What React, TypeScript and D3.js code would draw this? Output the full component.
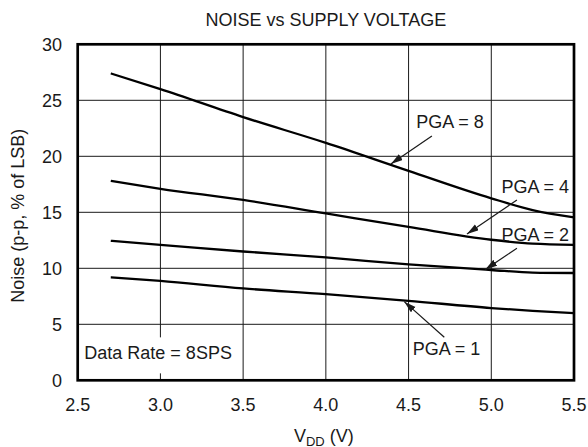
import React from 'react';
import * as d3 from "d3";

// supply voltage (V) and noise for each PGA setting (p-p, % of LSB)
const voltages = [2.7, 3.0, 3.5, 4.0, 4.5, 5.0, 5.25, 5.5];
const pga8 = [27.4, 26.0, 23.5, 21.2, 18.7, 16.25, 15.2, 14.55];
const pga4 = [17.8, 17.1, 16.1, 14.9, 13.7, 12.55, 12.2, 12.1];
const pga2 = [12.45, 12.1, 11.5, 10.97, 10.35, 9.85, 9.62, 9.58];
const pga1 = [9.2, 8.87, 8.2, 7.7, 7.1, 6.45, 6.2, 6.0];

const xTicks = [2.5, 3.0, 3.5, 4.0, 4.5, 5.0, 5.5];
const yTicks = [0, 5, 10, 15, 20, 25, 30];

// labels: text position and arrow from -> to, in data units
const labelText = ["PGA = 8", "PGA = 4", "PGA = 2", "PGA = 1"];
const labelX = [4.75, 5.266, 5.266, 4.73];
const labelY = [22.5, 16.73, 12.46, 2.26];
const arrowFromX = [4.641, 5.155, 5.155, 4.716];
const arrowFromY = [21.82, 16.1, 11.79, 3.84];
const arrowToX = [4.393, 4.853, 4.964, 4.474];
const arrowToY = [19.32, 13.06, 9.9, 7.02];

const width = 588;
const height = 447;
const margin = {top: 44.3, right: 14, bottom: 66.7, left: 77.7};
const font = "'Liberation Sans', Arial, Helvetica, sans-serif";
const ink = "#1a1a1a";

const App = () => {
    const xScale = d3.scaleLinear()
        .domain([2.5, 5.5])
        .range([margin.left, width - margin.right]);
    const yScale = d3.scaleLinear()
        .domain([0, 30])
        .range([height - margin.bottom, margin.top]);

    const line = d3.line<number>()
        .x((d, i) => xScale(voltages[i]))
        .y(d => yScale(d))
        .curve(d3.curveMonotoneX);

    const series = [pga8, pga4, pga2, pga1];
    const x0 = xScale.range()[0], x1 = xScale.range()[1];
    const y0 = yScale.range()[0], y1 = yScale.range()[1];

    // white box behind the data rate note (cuts the 3.0 grid line)
    const noteX = xScale(2.54);
    const noteY = yScale(1.87);

    return (
        <div style={{position: "absolute", left: 0, top: 0}}>
            <svg width={width} height={height} style={{display: "block", background: "white"}}
                 fontFamily={font}>
                <defs>
                    <marker id="arrow" markerUnits="userSpaceOnUse" markerWidth={13} markerHeight={8}
                            refX={12} refY={3.5} orient="auto">
                        <path d="M0,0 L12,3.5 L0,7 Z" fill={ink}/>
                    </marker>
                </defs>

                <text x={(x0 + x1) / 2} y={26} textAnchor="middle" fontSize={18} fill={ink}>
                    NOISE vs SUPPLY VOLTAGE
                </text>

                {/* grid */}
                {xTicks.slice(1, -1).map(t =>
                    <line key={"gx" + t} x1={xScale(t)} x2={xScale(t)} y1={y0} y2={y1}
                          stroke={ink} strokeWidth={1}/>
                )}
                {yTicks.slice(1, -1).map(t =>
                    <line key={"gy" + t} x1={x0} x2={x1} y1={yScale(t)} y2={yScale(t)}
                          stroke={ink} strokeWidth={1}/>
                )}

                <rect x={noteX - 3} y={noteY - 22} width={156} height={36} fill="white"/>
                <text x={noteX} y={noteY} fontSize={18} fill={ink}>Data Rate = 8SPS</text>

                {/* curves */}
                {series.map((s, i) =>
                    <path key={"s" + i} d={line(s) || ""} fill="none" stroke="black"
                          strokeWidth={2.3} strokeLinejoin="round"/>
                )}

                {/* annotations */}
                {labelText.map((t, i) =>
                    <g key={"a" + i}>
                        <text x={xScale(labelX[i])} y={yScale(labelY[i])} textAnchor="middle"
                              fontSize={18} fill={ink}>{t}</text>
                        <line x1={xScale(arrowFromX[i])} y1={yScale(arrowFromY[i])}
                              x2={xScale(arrowToX[i])} y2={yScale(arrowToY[i])}
                              stroke={ink} strokeWidth={1.2} markerEnd="url(#arrow)"/>
                    </g>
                )}

                {/* frame */}
                <rect x={x0} y={y1} width={x1 - x0} height={y0 - y1} fill="none"
                      stroke="black" strokeWidth={2.7}/>

                {/* tick labels */}
                {xTicks.map(t =>
                    <text key={"tx" + t} x={xScale(t)} y={y0 + 30.5} textAnchor="middle"
                          fontSize={18} fill={ink}>{t.toFixed(1)}</text>
                )}
                {yTicks.map(t =>
                    <text key={"ty" + t} x={62} y={yScale(t)} dy="0.35em" textAnchor="end"
                          fontSize={18} fill={ink}>{t}</text>
                )}

                <text x={(x0 + x1) / 2 - 2} y={441.5} textAnchor="middle" fontSize={18} fill={ink}>
                    V<tspan fontSize={13} dy={4}>DD</tspan><tspan dy={-4}> (V)</tspan>
                </text>
                <text transform={`translate(24, ${(y0 + y1) / 2 + 3.5}) rotate(-90)`} textAnchor="middle"
                      fontSize={18} fill={ink}>
                    Noise (p-p, % of LSB)
                </text>
            </svg>
        </div>
    );
};

export default App;
